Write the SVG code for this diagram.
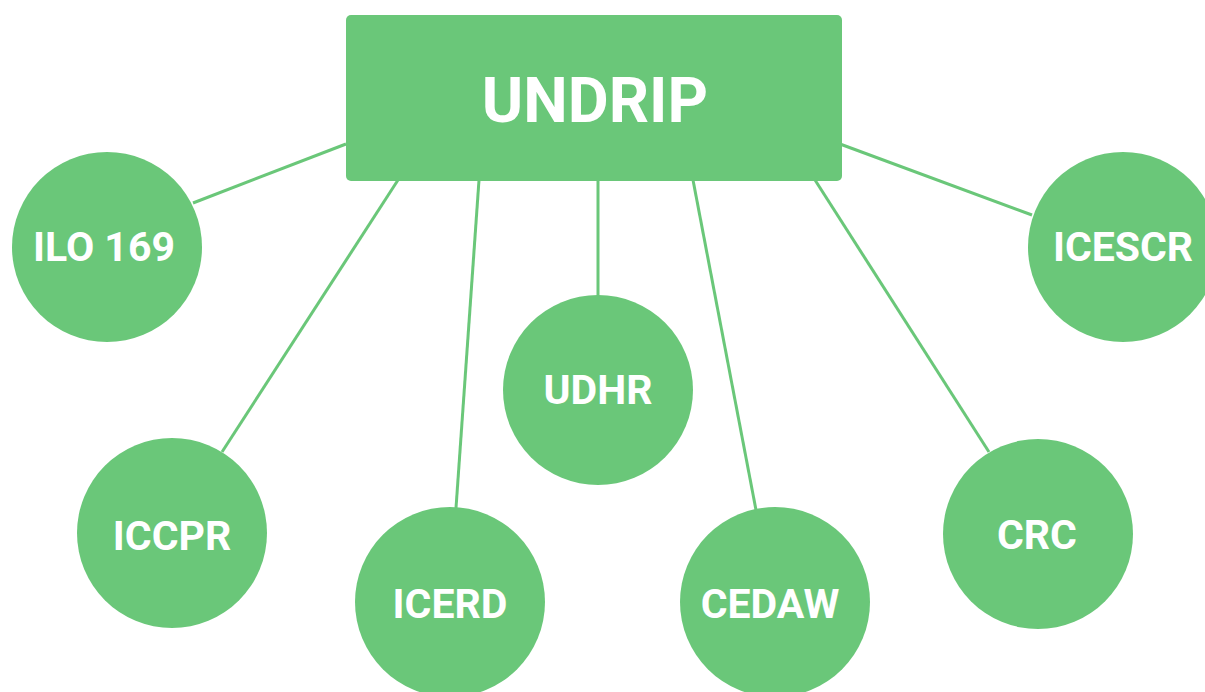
<svg xmlns="http://www.w3.org/2000/svg" width="1205" height="692" viewBox="0 0 1205 692">
<style>
.node{fill:#6AC779}
.lbl{fill:#ffffff;font-family:Roboto,"Liberation Sans",sans-serif;font-weight:700;font-size:41px;text-anchor:middle}
.big{font-size:63px}
.conn line{stroke:#6AC779;stroke-width:3;fill:none}
</style>
<rect width="1205" height="692" fill="#ffffff"/>
<g id="connectors" class="conn">
<line x1="346" y1="144" x2="193" y2="203"/>
<line x1="398" y1="180" x2="222" y2="452"/>
<line x1="479" y1="180" x2="456" y2="508"/>
<line x1="598" y1="180" x2="598" y2="296"/>
<line x1="693" y1="180" x2="756" y2="510"/>
<line x1="815" y1="180" x2="989" y2="452"/>
<line x1="840" y1="144" x2="1032" y2="215"/>
</g>
<g id="undrip">
<rect class="node" x="346" y="15" width="496" height="166" rx="5"/>
<text class="lbl big" x="595" y="122">UNDRIP</text>
</g>
<g id="ilo169">
<circle class="node" cx="107" cy="247" r="95"/>
<text class="lbl" x="104" y="261">ILO 169</text>
</g>
<g id="iccpr">
<circle class="node" cx="172" cy="533" r="95"/>
<text class="lbl" x="172" y="550">ICCPR</text>
</g>
<g id="icerd">
<circle class="node" cx="450" cy="602" r="95"/>
<text class="lbl" x="450" y="618">ICERD</text>
</g>
<g id="udhr">
<circle class="node" cx="598" cy="390" r="95"/>
<text class="lbl" x="598" y="404">UDHR</text>
</g>
<g id="cedaw">
<circle class="node" cx="775" cy="602" r="95"/>
<text class="lbl" x="770" y="618">CEDAW</text>
</g>
<g id="crc">
<circle class="node" cx="1038" cy="534" r="95"/>
<text class="lbl" x="1037" y="549">CRC</text>
</g>
<g id="icescr">
<circle class="node" cx="1123" cy="247" r="95"/>
<text class="lbl" x="1123" y="261">ICESCR</text>
</g>
</svg>
